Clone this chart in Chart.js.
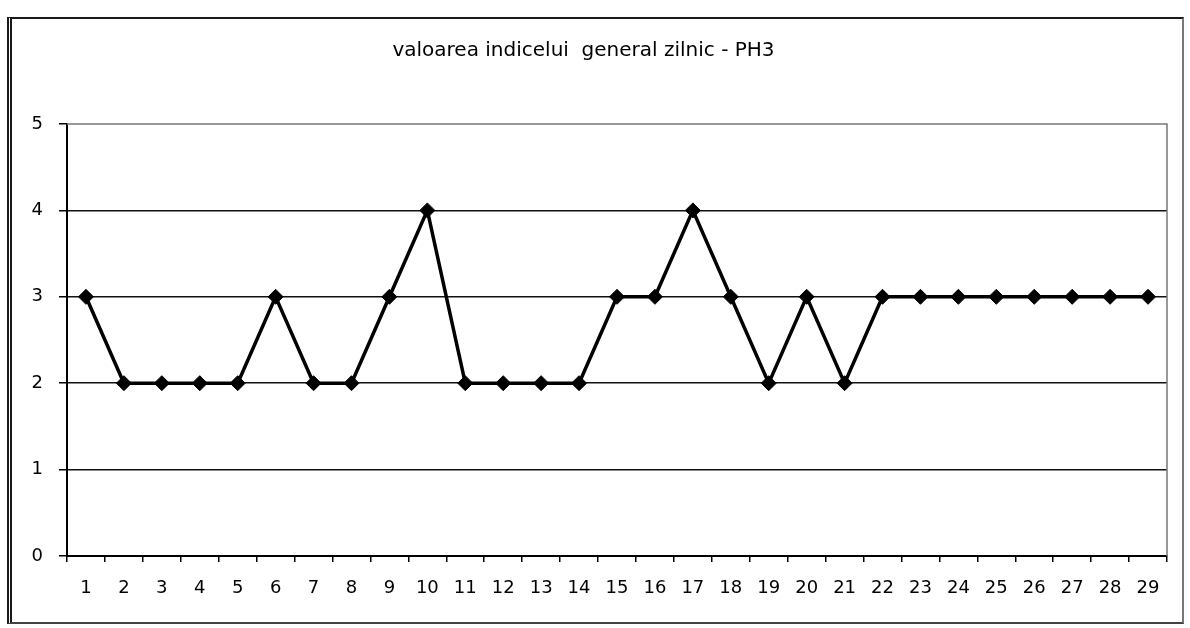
<!DOCTYPE html>
<html>
<head>
<meta charset="utf-8">
<script src="https://cdn.jsdelivr.net/npm/chart.js@4/dist/chart.umd.min.js"></script>
<style>
  body { margin: 0; background: #fff; }
  #frame { position: absolute; left: 7px; top: 17px; width: 1170px; height: 603px; border: 2px solid #1a1a1a; border-left: 5px double #1a1a1a; border-right-color: #777; border-bottom-color: #444; }
  #wrap { position: absolute; left: 0; top: 0; width: 1190px; height: 628px; }
</style>
</head>
<body>
<div id="frame"></div>
<div id="wrap"><canvas id="myChart" width="1190" height="628"></canvas></div>
<script>
// zilele lunii si valoarea indicelui
var zile = [];
for (var i = 1; i <= 29; i++) zile.push(String(i));
var valori = [3, 2, 2, 2, 2, 3, 2, 2, 3, 4, 2, 2, 2, 2, 3, 3, 4, 3, 2, 3, 2, 3, 3, 3, 3, 3, 3, 3, 3];
var ticksY = [0, 1, 2, 3, 4, 5];
var titlu = 'valoarea indicelui  general zilnic - PH3';

// chenarul zonei de desen (sus si dreapta, gri ca in Excel)
var chenar = {
    id: 'chenar',
    afterDatasetsDraw: function (chart) {
        var a = chart.chartArea;
        var ctx = chart.ctx;
        ctx.save();
        ctx.strokeStyle = '#777';
        ctx.lineWidth = 1.5;
        ctx.beginPath();
        ctx.moveTo(a.left, a.top);
        ctx.lineTo(a.right, a.top);
        ctx.lineTo(a.right, a.bottom);
        ctx.stroke();
        ctx.restore();
    }
};

var myChart = new Chart(document.getElementById('myChart'), {
    type: 'line',
    data: {
        labels: zile,
        datasets: [{
            data: valori,
            borderColor: '#000',
            borderWidth: 3.5,
            backgroundColor: '#000',
            pointStyle: 'rectRot',
            pointRadius: 7.5,
            pointBorderWidth: 1,
            tension: 0
        }]
    },
    options: {
        responsive: false,
        animation: false,
        layout: { padding: { top: 30, right: 23, bottom: 26, left: 0 } },
        plugins: {
            legend: { display: false },
            tooltip: { enabled: false },
            title: {
                display: true,
                text: titlu,
                color: '#000',
                font: { family: 'DejaVu Sans', size: 20, weight: 'normal' },
                padding: { top: 9, bottom: 61 }
            }
        },
        scales: {
            x: {
                offset: true,
                grid: { offset: true, drawOnChartArea: false, drawTicks: true, tickLength: 6, color: '#000', lineWidth: 1.5 },
                border: { color: '#000', width: 2 },
                ticks: { color: '#000', padding: 16, maxRotation: 0, autoSkip: false, font: { family: 'DejaVu Sans', size: 18 } },
                afterFit: function (s) { s.height = 46; }
            },
            y: {
                min: 0,
                max: 5,
                afterBuildTicks: function (s) { s.ticks = ticksY.map(function (v) { return { value: v }; }); },
                grid: {
                    color: function (c) { return c.tick && c.tick.value === 5 ? 'rgba(0,0,0,0)' : '#111'; },
                    lineWidth: 1.5,
                    tickLength: 8,
                    tickColor: '#000'
                },
                border: { color: '#000', width: 2 },
                ticks: { color: '#000', padding: 16, font: { family: 'DejaVu Sans', size: 18 } },
                afterFit: function (s) { s.width = 67; }
            }
        }
    },
    plugins: [chenar]
});
</script>
</body>
</html>
